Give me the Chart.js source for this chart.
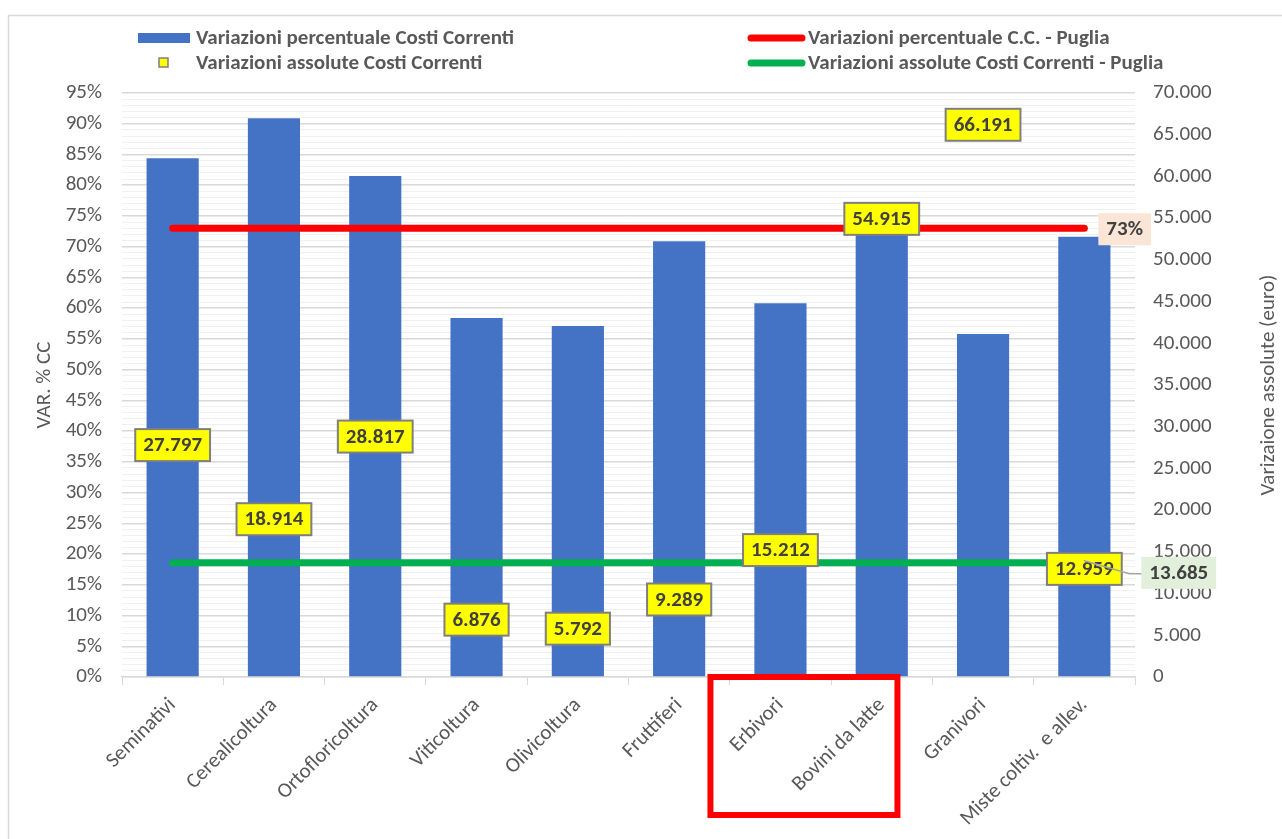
<!DOCTYPE html>
<html>
<head>
<meta charset="utf-8">
<script src="https://cdn.jsdelivr.net/npm/chart.js@4"></script>
<style>
  html, body { margin: 0; padding: 0; background: #fff; }
  #box { width: 1282px; height: 839px; }
</style>
</head>
<body>
<div id="box"><canvas id="myChart"></canvas></div>
<script>
// categorie (asse X)
var categorie = ['Seminativi', 'Cerealicoltura', 'Ortofloricoltura', 'Viticoltura', 'Olivicoltura',
                 'Fruttiferi', 'Erbivori', 'Bovini da latte', 'Granivori', 'Miste coltiv.  e allev.']
// variazioni percentuali costi correnti (%)
var variazPerc = [84.4, 90.9, 81.5, 58.4, 57.1, 70.9, 60.8, 75.0, 55.8, 71.6]
// variazioni assolute costi correnti (euro)
var variazAss = [27797, 18914, 28817, 6876, 5792, 9289, 15212, 54915, 66191, 12959]
// valori Puglia
var percPuglia = 73
var assPuglia = 13685
// assi
var maxPerc = 95
var maxAss = 70000
var passoAss = 5000

var font = 'Carlito, Calibri, Lato, sans-serif'
var grigio = '#595959'

function migliaia(v) {
  return String(Math.round(v)).replace(/\B(?=(\d{3})+(?!\d))/g, '.')
}

function box(ctx, x, y, testo, fondo, bordo) {
  ctx.font = 'bold 21px ' + font
  var w = ctx.measureText(testo).width + 16
  var h = 32
  ctx.fillStyle = fondo
  ctx.fillRect(x, y - h / 2, w, h)
  if (bordo) {
    ctx.strokeStyle = bordo
    ctx.lineWidth = 2
    ctx.strokeRect(x, y - h / 2, w, h)
  }
  ctx.fillStyle = '#404040'
  ctx.textAlign = 'center'
  ctx.textBaseline = 'middle'
  ctx.fillText(testo, x + w / 2, y + 1)
  return w
}

var disegni = {
  id: 'disegni',
  beforeDraw: function(chart) {
    var ctx = chart.ctx
    ctx.save()
    ctx.fillStyle = '#fff'
    ctx.fillRect(0, 0, chart.width, chart.height)
    ctx.strokeStyle = '#d9d9d9'
    ctx.lineWidth = 1.5
    ctx.strokeRect(8.5, 15.5, chart.width + 20, chart.height + 20)
    ctx.restore()
  },
  afterDraw: function(chart) {
    var ctx = chart.ctx
    var area = chart.chartArea
    ctx.save()

    // legenda
    ctx.font = 'bold 21px ' + font
    ctx.textBaseline = 'middle'
    ctx.textAlign = 'left'
    ctx.fillStyle = '#4472C4'
    ctx.fillRect(138, 33, 52, 10)
    ctx.fillStyle = '#ffff00'
    ctx.fillRect(159, 58, 9, 9)
    ctx.strokeStyle = '#7f7f7f'
    ctx.lineWidth = 1.5
    ctx.strokeRect(159, 58, 9, 9)
    ctx.lineCap = 'round'
    ctx.lineWidth = 7
    ctx.strokeStyle = '#ff0000'
    ctx.beginPath(); ctx.moveTo(751, 38); ctx.lineTo(802, 38); ctx.stroke()
    ctx.strokeStyle = '#00b050'
    ctx.beginPath(); ctx.moveTo(751, 63); ctx.lineTo(802, 63); ctx.stroke()
    ctx.fillStyle = grigio
    ctx.fillText('Variazioni percentuale Costi Correnti', 196, 39)
    ctx.fillText('Variazioni assolute Costi Correnti', 196, 64)
    ctx.fillText('Variazioni percentuale C.C. - Puglia', 808, 39)
    ctx.fillText('Variazioni assolute Costi Correnti - Puglia', 808, 64)

    // titoli assi
    ctx.font = '21px ' + font
    ctx.textAlign = 'center'
    ctx.translate(45, (area.top + area.bottom) / 2)
    ctx.rotate(-Math.PI / 2)
    ctx.fillText('VAR. % CC', 0, 0)
    ctx.setTransform(1, 0, 0, 1, 0, 0)
    ctx.translate(1269, (area.top + area.bottom) / 2)
    ctx.rotate(-Math.PI / 2)
    ctx.fillText('Varizaione assolute (euro)', 0, 0)
    ctx.setTransform(1, 0, 0, 1, 0, 0)

    // etichette valori assoluti
    var punti = chart.getDatasetMeta(3).data
    for (var i = 0; i < punti.length; i++) {
      var t = migliaia(variazAss[i])
      ctx.font = 'bold 21px ' + font
      var w = ctx.measureText(t).width + 16
      box(ctx, punti[i].x - w / 2, punti[i].y, t, '#ffff00', '#7f7f7f')
    }

    // etichette Puglia
    var rosso = chart.getDatasetMeta(1).data
    var ultR = rosso[rosso.length - 1]
    box(ctx, ultR.x + 14, ultR.y + 1, percPuglia + '%', '#fbe5d6', null)
    var verde = chart.getDatasetMeta(2).data
    var ultV = verde[verde.length - 1]
    ctx.strokeStyle = '#a6a6a6'
    ctx.lineWidth = 1.5
    ctx.beginPath()
    ctx.moveTo(ultV.x, ultV.y - 2)
    ctx.lineTo(ultV.x + 45, ultV.y + 11)
    ctx.lineTo(ultV.x + 57, ultV.y + 11)
    ctx.stroke()
    box(ctx, ultV.x + 57, ultV.y + 10, migliaia(assPuglia), '#e2efda', null)

    // riquadro rosso su Erbivori / Bovini da latte
    var sx = chart.scales.x
    ctx.strokeStyle = '#ff0000'
    ctx.lineWidth = 6
    ctx.strokeRect(sx.getPixelForTick(6) - 70, area.bottom, 187, 138)

    ctx.restore()
  }
}

var ctx = document.getElementById('myChart').getContext('2d')
var myChart = new Chart(ctx, {
  type: 'bar',
  data: {
    labels: categorie,
    datasets: [{
      label: 'Variazioni percentuale Costi Correnti',
      data: variazPerc,
      backgroundColor: '#4472C4',
      barPercentage: 0.515,
      categoryPercentage: 1,
      yAxisID: 'y',
      order: 4
    }, {
      type: 'line',
      label: 'Variazioni percentuale C.C. - Puglia',
      data: categorie.map(function() { return percPuglia }),
      borderColor: '#ff0000',
      borderWidth: 7,
      borderCapStyle: 'round',
      pointRadius: 0,
      yAxisID: 'y',
      order: 2
    }, {
      type: 'line',
      label: 'Variazioni assolute Costi Correnti - Puglia',
      data: categorie.map(function() { return assPuglia }),
      borderColor: '#00b050',
      borderWidth: 7,
      borderCapStyle: 'round',
      pointRadius: 0,
      yAxisID: 'y2',
      order: 1
    }, {
      type: 'line',
      label: 'Variazioni assolute Costi Correnti',
      data: variazAss,
      showLine: false,
      pointStyle: 'rect',
      pointRadius: 4,
      backgroundColor: '#ffff00',
      borderColor: '#7f7f7f',
      yAxisID: 'y2',
      order: 0
    }]
  },
  options: {
    responsive: true,
    maintainAspectRatio: false,
    animation: false,
    layout: { padding: { top: 93, left: 0, right: 0, bottom: 0 } },
    plugins: {
      legend: { display: false },
      tooltip: { enabled: false }
    },
    scales: {
      x: {
        offset: true,
        grid: { drawOnChartArea: false, color: '#d9d9d9', tickLength: 8, offset: true },
        border: { color: '#d9d9d9', width: 1.5 },
        ticks: {
          color: grigio, font: { family: font, size: 21 },
          minRotation: 45, maxRotation: 45, autoSkip: false, padding: 8
        },
        afterFit: function(s) { s.height = 162 }
      },
      y: {
        position: 'left',
        min: 0, max: maxPerc,
        grid: {
          drawTicks: false,
          color: function(c) { return c.tick && c.tick.value % 5 === 0 ? '#d9d9d9' : '#f0f0f0' },
          lineWidth: function(c) { return c.tick && c.tick.value % 5 === 0 ? 1.5 : 1 }
        },
        border: { display: false },
        ticks: {
          stepSize: 1, autoSkip: false, padding: 20,
          color: grigio, font: { family: font, size: 21 },
          callback: function(v) { return v % 5 === 0 ? v + '%' : '' }
        },
        afterFit: function(s) { s.width = 122 }
      },
      y2: {
        position: 'right',
        min: 0, max: maxAss,
        grid: { drawOnChartArea: false, drawTicks: false },
        border: { display: false },
        ticks: {
          stepSize: passoAss, padding: 18,
          color: grigio, font: { family: font, size: 21 },
          callback: function(v) { return migliaia(v) }
        },
        afterFit: function(s) { s.width = 1282 - 1135 }
      }
    }
  },
  plugins: [disegni]
})
</script>
</body>
</html>
